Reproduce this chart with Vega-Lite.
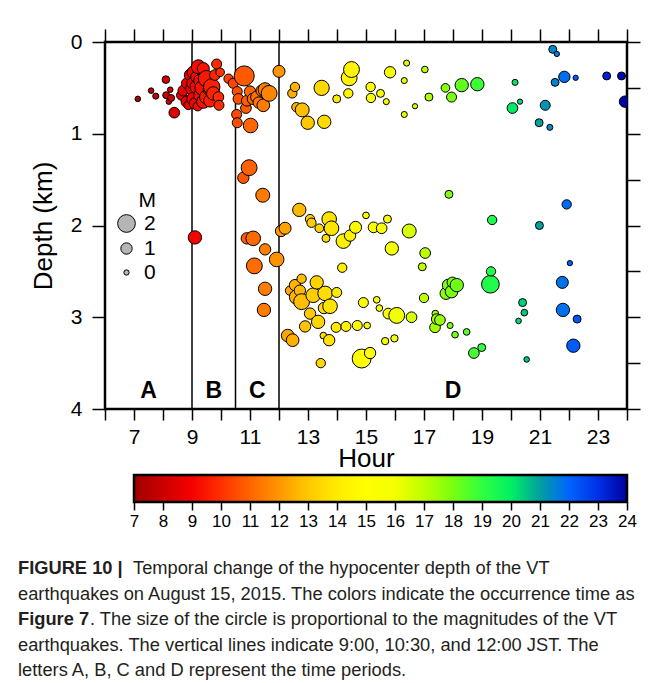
{
  "$schema": "https://vega.github.io/schema/vega-lite/v6.json",
  "padding": {"left": 18, "top": 27, "right": 5, "bottom": 0},
  "background": "white",
  "spacing": 0,
  "config": {
    "font": "Liberation Sans",
    "view": {"stroke": null},
    "axis": {"labelColor": "black", "titleColor": "black", "tickColor": "black", "domainColor": "black", "grid": false, "labelFont": "Liberation Sans", "titleFont": "Liberation Sans", "titleFontWeight": "normal", "labelOverlap": false, "labelFlush": false}
  },
  "datasets": {
    "quakes": [
      {"hour":7.13,"depth":0.62,"M":0.1},{"hour":7.59,"depth":0.53,"M":0.1},{"hour":7.75,"depth":0.59,"M":0.2},{"hour":8.10,"depth":0.41,"M":0.45},{"hour":8.11,"depth":0.58,"M":0.35},{"hour":8.20,"depth":0.65,"M":0.1},{"hour":8.25,"depth":0.52,"M":0.1},{"hour":8.28,"depth":0.61,"M":0.35},{"hour":8.39,"depth":0.77,"M":0.9},
      {"hour":8.64,"depth":0.58,"M":0.8},{"hour":8.70,"depth":0.53,"M":0.9},{"hour":8.82,"depth":0.45,"M":0.9},{"hour":8.82,"depth":0.65,"M":1.0},{"hour":8.87,"depth":0.69,"M":0.6},{"hour":8.93,"depth":0.36,"M":1.0},{"hour":8.99,"depth":0.51,"M":1.1},{"hour":9.00,"depth":0.45,"M":0.9},{"hour":9.05,"depth":0.33,"M":1.2},{"hour":9.05,"depth":0.62,"M":1.3},{"hour":9.10,"depth":0.67,"M":1.0},{"hour":9.10,"depth":2.13,"M":1.3},{"hour":9.15,"depth":0.38,"M":1.0},{"hour":9.16,"depth":0.49,"M":1.3},{"hour":9.20,"depth":0.70,"M":0.7},{"hour":9.22,"depth":0.27,"M":1.4},{"hour":9.28,"depth":0.42,"M":1.2},{"hour":9.28,"depth":0.58,"M":1.2},{"hour":9.35,"depth":0.50,"M":1.5},{"hour":9.39,"depth":0.29,"M":1.1},{"hour":9.39,"depth":0.65,"M":1.3},{"hour":9.50,"depth":0.40,"M":1.8},{"hour":9.50,"depth":0.60,"M":1.4},{"hour":9.58,"depth":0.52,"M":1.0},{"hour":9.62,"depth":0.64,"M":1.2},{"hour":9.68,"depth":0.49,"M":1.8},{"hour":9.73,"depth":0.56,"M":1.3},{"hour":9.79,"depth":0.36,"M":0.9},{"hour":9.85,"depth":0.24,"M":0.8},{"hour":9.91,"depth":0.60,"M":0.9},{"hour":9.93,"depth":0.69,"M":0.8},{"hour":9.97,"depth":0.33,"M":0.6},
      {"hour":10.26,"depth":0.40,"M":0.7},{"hour":10.42,"depth":0.45,"M":0.8},{"hour":10.54,"depth":0.79,"M":0.8},{"hour":10.56,"depth":0.54,"M":0.8},{"hour":10.56,"depth":0.88,"M":0.8},{"hour":10.60,"depth":0.62,"M":0.9},{"hour":10.77,"depth":1.48,"M":1.0},{"hour":10.80,"depth":0.37,"M":2.4},{"hour":10.86,"depth":0.72,"M":0.9},{"hour":10.89,"depth":0.64,"M":0.9},{"hour":10.89,"depth":2.14,"M":1.0},{"hour":10.97,"depth":1.37,"M":1.7},{"hour":11.00,"depth":0.54,"M":1.0},{"hour":11.02,"depth":0.91,"M":1.5},{"hour":11.10,"depth":0.62,"M":1.0},{"hour":11.11,"depth":2.14,"M":1.5},{"hour":11.15,"depth":2.44,"M":1.7},{"hour":11.23,"depth":0.60,"M":1.1},{"hour":11.30,"depth":0.66,"M":1.0},{"hour":11.40,"depth":0.53,"M":1.0},{"hour":11.44,"depth":1.67,"M":1.4},{"hour":11.46,"depth":0.69,"M":1.2},{"hour":11.48,"depth":2.92,"M":1.3},{"hour":11.52,"depth":0.52,"M":1.4},{"hour":11.52,"depth":2.26,"M":1.0},{"hour":11.52,"depth":2.69,"M":1.3},{"hour":11.66,"depth":0.56,"M":1.7},{"hour":11.92,"depth":2.37,"M":1.5},
      {"hour":12.00,"depth":0.32,"M":1.1},{"hour":12.07,"depth":2.06,"M":1.0},{"hour":12.21,"depth":2.03,"M":1.1},{"hour":12.30,"depth":3.20,"M":1.2},{"hour":12.38,"depth":2.71,"M":0.7},{"hour":12.46,"depth":0.56,"M":0.7},{"hour":12.47,"depth":3.25,"M":1.2},{"hour":12.55,"depth":0.49,"M":0.7},{"hour":12.55,"depth":2.65,"M":1.0},{"hour":12.60,"depth":0.71,"M":0.7},{"hour":12.61,"depth":2.78,"M":1.5},{"hour":12.70,"depth":1.83,"M":1.3},{"hour":12.72,"depth":2.71,"M":1.0},{"hour":12.78,"depth":2.58,"M":0.7},{"hour":12.78,"depth":2.83,"M":1.7},{"hour":12.80,"depth":0.74,"M":1.4},{"hour":12.90,"depth":3.10,"M":1.0},{"hour":12.99,"depth":0.88,"M":1.3},
      {"hour":13.07,"depth":1.93,"M":0.7},{"hour":13.07,"depth":2.96,"M":1.0},{"hour":13.12,"depth":1.97,"M":0.7},{"hour":13.18,"depth":2.76,"M":1.5},{"hour":13.30,"depth":2.62,"M":1.3},{"hour":13.35,"depth":3.05,"M":1.3},{"hour":13.39,"depth":2.03,"M":0.6},{"hour":13.44,"depth":3.50,"M":0.7},{"hour":13.47,"depth":0.50,"M":1.6},{"hour":13.53,"depth":3.20,"M":0.3},{"hour":13.55,"depth":2.90,"M":1.0},{"hour":13.56,"depth":0.87,"M":1.3},{"hour":13.59,"depth":2.74,"M":1.5},{"hour":13.62,"depth":2.14,"M":0.5},{"hour":13.73,"depth":1.93,"M":1.5},{"hour":13.73,"depth":3.25,"M":1.0},{"hour":13.76,"depth":2.88,"M":1.5},{"hour":13.81,"depth":2.03,"M":1.5},{"hour":13.97,"depth":3.11,"M":0.8},{"hour":13.99,"depth":0.62,"M":0.5},{"hour":13.99,"depth":2.73,"M":0.8},
      {"hour":14.18,"depth":2.46,"M":0.7},{"hour":14.22,"depth":2.17,"M":1.5},{"hour":14.31,"depth":3.10,"M":0.8},{"hour":14.39,"depth":0.56,"M":0.7},{"hour":14.42,"depth":0.39,"M":1.7},{"hour":14.45,"depth":2.11,"M":1.0},{"hour":14.50,"depth":0.30,"M":1.7},{"hour":14.64,"depth":2.02,"M":1.1},{"hour":14.70,"depth":3.09,"M":0.8},{"hour":14.85,"depth":3.45,"M":2.2},{"hour":14.91,"depth":2.84,"M":0.8},
      {"hour":15.00,"depth":1.89,"M":0.3},{"hour":15.04,"depth":3.09,"M":0.3},{"hour":15.14,"depth":3.39,"M":1.0},{"hour":15.16,"depth":0.49,"M":0.7},{"hour":15.17,"depth":0.61,"M":0.7},{"hour":15.26,"depth":2.02,"M":0.9},{"hour":15.37,"depth":2.81,"M":0.3},{"hour":15.46,"depth":2.90,"M":0.3},{"hour":15.50,"depth":0.56,"M":0.5},{"hour":15.54,"depth":2.03,"M":0.9},{"hour":15.66,"depth":3.26,"M":0.4},{"hour":15.70,"depth":0.65,"M":0.2},{"hour":15.74,"depth":1.93,"M":0.5},{"hour":15.77,"depth":2.96,"M":0.9},{"hour":15.83,"depth":0.33,"M":1.0},{"hour":15.89,"depth":2.25,"M":1.3},{"hour":15.98,"depth":3.23,"M":0.4},
      {"hour":16.06,"depth":2.98,"M":1.7},{"hour":16.32,"depth":0.42,"M":0.2},{"hour":16.32,"depth":0.79,"M":0.2},{"hour":16.40,"depth":0.23,"M":0.2},{"hour":16.49,"depth":2.06,"M":1.4},{"hour":16.57,"depth":3.00,"M":0.9},{"hour":16.69,"depth":0.70,"M":0.0},{"hour":16.94,"depth":2.45,"M":0.5},
      {"hour":17.00,"depth":2.79,"M":0.7},{"hour":17.03,"depth":0.30,"M":0.3},{"hour":17.04,"depth":2.30,"M":0.9},{"hour":17.17,"depth":0.60,"M":0.5},{"hour":17.38,"depth":3.11,"M":0.9},{"hour":17.39,"depth":2.96,"M":0.3},{"hour":17.44,"depth":3.02,"M":0.9},{"hour":17.55,"depth":3.03,"M":0.9},{"hour":17.74,"depth":0.50,"M":0.6},{"hour":17.76,"depth":2.74,"M":1.1},{"hour":17.84,"depth":2.65,"M":1.1},{"hour":17.86,"depth":1.66,"M":0.5},{"hour":17.90,"depth":3.09,"M":0.2},{"hour":17.95,"depth":0.60,"M":0.8},{"hour":17.95,"depth":2.72,"M":1.2},{"hour":17.98,"depth":2.62,"M":0.9},
      {"hour":18.07,"depth":3.19,"M":0.3},{"hour":18.13,"depth":2.65,"M":1.3},{"hour":18.30,"depth":0.47,"M":1.3},{"hour":18.47,"depth":3.16,"M":0.3},{"hour":18.72,"depth":3.39,"M":0.9},{"hour":18.84,"depth":0.46,"M":1.3},{"hour":18.99,"depth":3.33,"M":0.5},
      {"hour":19.29,"depth":2.64,"M":2.0},{"hour":19.31,"depth":2.50,"M":0.7},{"hour":19.35,"depth":1.94,"M":0.7},
      {"hour":20.05,"depth":0.72,"M":0.9},{"hour":20.14,"depth":0.44,"M":0.2},{"hour":20.26,"depth":3.04,"M":0.1},{"hour":20.31,"depth":0.65,"M":0.0},{"hour":20.40,"depth":2.84,"M":0.5},{"hour":20.46,"depth":2.95,"M":0.3},{"hour":20.54,"depth":3.46,"M":0.1},{"hour":20.97,"depth":0.88,"M":0.5},{"hour":20.98,"depth":2.00,"M":0.5},
      {"hour":21.18,"depth":0.69,"M":0.8},{"hour":21.34,"depth":0.93,"M":0.2},{"hour":21.44,"depth":0.08,"M":0.5},{"hour":21.52,"depth":0.44,"M":0.5},{"hour":21.58,"depth":0.13,"M":0.0},{"hour":21.77,"depth":2.62,"M":1.1},{"hour":21.79,"depth":2.92,"M":1.3},{"hour":21.84,"depth":0.38,"M":1.0},{"hour":21.92,"depth":1.77,"M":0.7},
      {"hour":22.03,"depth":2.41,"M":0.0},{"hour":22.15,"depth":3.31,"M":1.3},{"hour":22.23,"depth":0.39,"M":0.0},{"hour":22.28,"depth":3.02,"M":0.5},
      {"hour":23.30,"depth":0.37,"M":0.5},{"hour":23.81,"depth":0.37,"M":0.5},{"hour":23.93,"depth":0.65,"M":1.0}
    ],
    "boundaries": [{"hour": 9}, {"hour": 10.5}, {"hour": 12}],
    "periods": [
      {"label": "A", "hour": 7.5, "depth": 3.8},
      {"label": "B", "hour": 9.75, "depth": 3.8},
      {"label": "C", "hour": 11.25, "depth": 3.8},
      {"label": "D", "hour": 18, "depth": 3.8}
    ],
    "colorbar": [{"start": 7, "end": 24}],
    "caption": [
      {"line": 1, "bold": "FIGURE 10 |", "text": "Temporal change of the hypocenter depth of the VT"},
      {"line": 2, "bold": "", "text": "earthquakes on August 15, 2015. The colors indicate the occurrence time as"},
      {"line": 3, "bold": "Figure 7", "text": ". The size of the circle is proportional to the magnitudes of the VT"},
      {"line": 4, "bold": "", "text": "earthquakes. The vertical lines indicate 9:00, 10:30, and 12:00 JST. The"},
      {"line": 5, "bold": "", "text": "letters A, B, C and D represent the time periods."}
    ]
  },
  "vconcat": [
    {
      "width": 522,
      "height": 367,
      "view": {"stroke": "black", "strokeWidth": 2.5},
      "layer": [
        {
          "data": {"name": "boundaries"},
          "mark": {"type": "rule", "color": "black", "strokeWidth": 1.5},
          "encoding": {
            "x": {"field": "hour", "type": "quantitative", "scale": {"domain": [6, 24], "nice": false}, "axis": null}
          }
        },
        {
          "data": {"name": "quakes"},
          "mark": {"type": "circle", "stroke": "black", "strokeWidth": 1, "opacity": 1, "clip": true},
          "encoding": {
            "x": {"field": "hour", "type": "quantitative", "scale": {"domain": [6, 24], "nice": false},
              "axis": {"orient": "bottom", "values": [6,7,8,9,10,11,12,13,14,15,16,17,18,19,20,21,22,23,24], "format": "d",
                "labelExpr": "datum.value % 2 == 1 ? datum.label : ''", "tickSize": 11, "tickWidth": 1.5, "domain": false,
                "labelFontSize": 21, "labelPadding": 6, "title": "Hour", "titleFontSize": 26, "titlePadding": -2}},
            "y": {"field": "depth", "type": "quantitative", "scale": {"domain": [0, 4], "reverse": true, "nice": false},
              "axis": {"orient": "left", "values": [0,0.5,1,1.5,2,2.5,3,3.5,4], "format": "d",
                "labelExpr": "datum.value % 1 == 0 ? datum.label : ''", "tickSize": 13, "tickWidth": 1.5, "domain": false,
                "labelFontSize": 21, "labelPadding": 10, "title": "Depth (km)", "titleFontSize": 26, "titlePadding": 14}},
            "color": {"field": "hour", "type": "quantitative", "legend": null,
              "scale": {"domain": [7,8,9,10,11,12,13,14,15,16,17,18,19,20,21,22,23,24],
                "range": ["#a00000","#cc0000","#f50000","#ff3000","#ff6400","#ff9600","#ffc800","#ffeb00","#ffff00","#f5ff00","#beff00","#78ff10","#30ff40","#00f064","#00a0a0","#0064ff","#0030e6","#0000a0"],
                "interpolate": "rgb"}},
            "size": {"field": "M", "type": "quantitative",
              "scale": {"type": "pow", "exponent": 1.5, "domain": [0, 2], "range": [28, 314]},
              "legend": {"orient": "none", "legendX": 11, "legendY": 148, "title": "M", "titleFontSize": 21, "titleFontWeight": "normal", "titleColor": "black", "titleAnchor": "end", "titlePadding": 2,
                "labelFontSize": 21, "labelColor": "black", "labelOffset": 7, "values": [2, 1, 0], "format": "d", "symbolType": "circle",
                "symbolFillColor": "#b5b5b5", "symbolStrokeColor": "black", "symbolStrokeWidth": 1, "symbolOpacity": 1, "rowPadding": 2, "direction": "vertical"}}
          }
        },
        {
          "data": {"name": "periods"},
          "mark": {"type": "text", "fontSize": 23, "fontWeight": "bold", "baseline": "middle", "align": "center", "color": "black"},
          "encoding": {
            "x": {"field": "hour", "type": "quantitative", "scale": {"domain": [6, 24], "nice": false},
              "axis": {"orient": "top", "values": [6,7,8,9,10,11,12,13,14,15,16,17,18,19,20,21,22,23,24], "labels": false, "tickSize": 13, "tickWidth": 1.5, "domain": false, "title": null}},
            "y": {"field": "depth", "type": "quantitative", "scale": {"domain": [0, 4], "reverse": true, "nice": false},
              "axis": {"orient": "right", "values": [0,0.5,1,1.5,2,2.5,3,3.5,4], "labels": false, "tickSize": 13, "tickWidth": 1.5, "domain": false, "title": null}},
            "text": {"field": "label"}
          }
        }
      ],
      "resolve": {"axis": {"x": "independent", "y": "independent"}}
    },
    {
      "width": 522,
      "height": 27,
      "data": {"name": "colorbar"},
      "mark": {"type": "rect", "stroke": "black", "strokeWidth": 2.5,
        "fill": {"gradient": "linear", "x1": 0, "y1": 0, "x2": 1, "y2": 0, "stops": [
          {"offset": 0, "color": "#a00000"}, {"offset": 0.0588, "color": "#cc0000"}, {"offset": 0.1176, "color": "#f50000"},
          {"offset": 0.1765, "color": "#ff3000"}, {"offset": 0.2353, "color": "#ff6400"}, {"offset": 0.2941, "color": "#ff9600"},
          {"offset": 0.3529, "color": "#ffc800"}, {"offset": 0.4118, "color": "#ffeb00"}, {"offset": 0.4706, "color": "#ffff00"},
          {"offset": 0.5294, "color": "#f5ff00"}, {"offset": 0.5882, "color": "#beff00"}, {"offset": 0.6471, "color": "#78ff10"},
          {"offset": 0.7059, "color": "#30ff40"}, {"offset": 0.7647, "color": "#00f064"}, {"offset": 0.8235, "color": "#00a0a0"},
          {"offset": 0.8824, "color": "#0064ff"}, {"offset": 0.9412, "color": "#0030e6"}, {"offset": 1, "color": "#0000a0"}]}},
      "encoding": {
        "x": {"field": "start", "type": "quantitative", "scale": {"domain": [6, 24], "nice": false},
          "axis": {"orient": "bottom", "values": [7,8,9,10,11,12,13,14,15,16,17,18,19,20,21,22,23,24], "format": "d", "tickSize": 8, "tickWidth": 1.5, "domain": false, "labelFontSize": 17, "labelPadding": 3, "title": null}},
        "x2": {"field": "end"}
      }
    },
    {
      "width": 522,
      "height": 155,
      "data": {"name": "caption"},
      "encoding": {
        "y": {"field": "line", "type": "ordinal", "axis": null, "scale": {"type": "band", "paddingInner": 0, "paddingOuter": 0.544, "align": 1}}
      },
      "layer": [
        {
          "transform": [{"filter": "datum.bold != ''"}],
          "mark": {"type": "text", "align": "left", "baseline": "middle", "fontSize": 18.3, "fontWeight": "bold", "color": "#231f20", "x": -87},
          "encoding": {"text": {"field": "bold"}}
        },
        {
          "transform": [{"filter": "datum.line == 1"}],
          "mark": {"type": "text", "align": "left", "baseline": "middle", "fontSize": 18.3, "color": "#231f20", "x": 28},
          "encoding": {"text": {"field": "text"}}
        },
        {
          "transform": [{"filter": "datum.line == 3"}],
          "mark": {"type": "text", "align": "left", "baseline": "middle", "fontSize": 18.3, "color": "#231f20", "x": -15},
          "encoding": {"text": {"field": "text"}}
        },
        {
          "transform": [{"filter": "datum.line != 1 && datum.line != 3"}],
          "mark": {"type": "text", "align": "left", "baseline": "middle", "fontSize": 18.3, "color": "#231f20", "x": -87},
          "encoding": {"text": {"field": "text"}}
        }
      ]
    }
  ]
}
